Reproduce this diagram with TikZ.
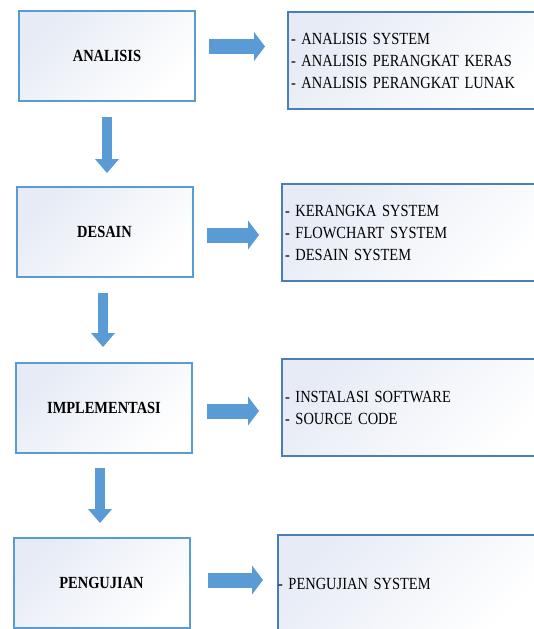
\documentclass[tikz,border=0pt]{standalone}
\usepackage{fontspec}
\setmainfont{Liberation Serif}[FakeStretch=0.85]
\usetikzlibrary{arrows.meta,shadows}
\definecolor{stepblue}{HTML}{5B9BD5}
\definecolor{noteblue}{HTML}{4A7EBB}
\definecolor{boxtint}{HTML}{E6EBF5}
\newcommand{\NoteFont}{\fontsize{17}{22}\selectfont\spaceskip=0.19em plus 0.05em\relax}

\begin{document}
\begin{tikzpicture}[x=1pt, y=-1pt,
    stepbox/.style={draw=stepblue, line width=2pt, top color=boxtint, bottom color=white, shading angle=45,
                    minimum width=176pt, minimum height=90pt, font=\fontsize{17}{22}\selectfont\bfseries,
                    drop shadow={opacity=0.12, shadow xshift=1pt, shadow yshift=-1pt}},
    notebox/.style={draw=noteblue, line width=2pt, top color=boxtint, bottom color=white, shading angle=45,
                    anchor=west, text width=262pt, inner xsep=3pt, minimum height=97pt, align=left,
                    font=\NoteFont},
    rarrow/.style={stepblue, line width=15pt, -{Triangle[length=11pt, width=29pt, line width=0pt]}},
    darrow/.style={stepblue, line width=10pt, -{Triangle[length=14pt, width=24pt, line width=0pt]}}]
    \path[use as bounding box, fill=white] (0,0) rectangle (534,629);
    % Draw stage boxes
    \node[stepbox] (analisis) at (107,56) {ANALISIS};
    \node[stepbox] (desain) at (104.5,232) {DESAIN};
    \node[stepbox] (implementasi) at (104,408) {IMPLEMENTASI};
    \node[stepbox] (pengujian) at (101.5,583) {PENGUJIAN};
    % Draw detail boxes
    \node[notebox] (analisisnote) at (287,60.5) {- ANALISIS SYSTEM\\- ANALISIS PERANGKAT KERAS\\- ANALISIS PERANGKAT LUNAK};
    \node[notebox] (desainnote) at (281,232.5) {- KERANGKA SYSTEM\\- FLOWCHART SYSTEM\\- DESAIN SYSTEM};
    \node[notebox] (implementasinote) at (281,407.5) {- INSTALASI SOFTWARE\\- SOURCE CODE};
    \node[notebox, inner xsep=0pt] (pengujiannote) at (277,583.5) {- PENGUJIAN SYSTEM};
    % Draw arrows to the detail boxes
    \draw[rarrow, shorten <=13pt, shorten >=22pt] ([yshift=9.5pt]analisis.east) -- ([yshift=9.5pt]analisis.east -| analisisnote.west);
    \draw[rarrow, shorten <=13pt, shorten >=22pt] ([yshift=-3pt]desain.east) -- ([yshift=-3pt]desain.east -| desainnote.west);
    \draw[rarrow, shorten <=14pt, shorten >=22pt] ([yshift=-3pt]implementasi.east) -- ([yshift=-3pt]implementasi.east -| implementasinote.west);
    \draw[rarrow, shorten <=17pt, shorten >=14pt] ([yshift=3pt]pengujian.east) -- ([yshift=3pt]pengujian.east -| pengujiannote.west);
    % Draw arrows between stages
    \draw[darrow, shorten <=15pt, shorten >=13pt] (analisis.south) -- (analisis.south |- desain.north);
    \draw[darrow, shorten <=15pt, shorten >=15pt] ([xshift=-1.5pt]desain.south) -- ([xshift=-1.5pt]desain.south |- implementasi.north);
    \draw[darrow, shorten <=14pt, shorten >=14pt] ([xshift=-4pt]implementasi.south) -- ([xshift=-4pt]implementasi.south |- pengujian.north);
\end{tikzpicture}
\end{document}
